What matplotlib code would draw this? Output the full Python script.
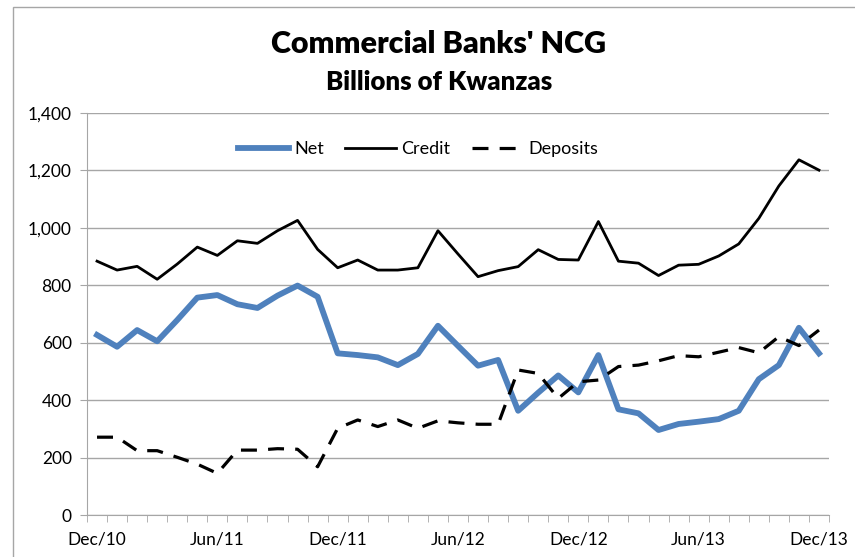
import numpy as np
import matplotlib.pyplot as plt
from matplotlib.patches import Rectangle
from matplotlib.ticker import FuncFormatter, FixedLocator

# monthly, Dec/10 .. Dec/13 (billions of kwanzas)
months = ["Dec/10", "Jan/11", "Feb/11", "Mar/11", "Apr/11", "May/11", "Jun/11",
          "Jul/11", "Aug/11", "Sep/11", "Oct/11", "Nov/11", "Dec/11",
          "Jan/12", "Feb/12", "Mar/12", "Apr/12", "May/12", "Jun/12",
          "Jul/12", "Aug/12", "Sep/12", "Oct/12", "Nov/12", "Dec/12",
          "Jan/13", "Feb/13", "Mar/13", "Apr/13", "May/13", "Jun/13",
          "Jul/13", "Aug/13", "Sep/13", "Oct/13", "Nov/13", "Dec/13"]

net = [627, 586, 644, 605, 679, 757, 766, 734, 721, 764, 799, 760, 563,
       557, 549, 522, 561, 659, 589, 520, 540, 363, 426, 486, 427, 557,
       368, 354, 296, 317, 325, 334, 363, 473, 522, 652, 563]

credit = [884, 853, 866, 821, 874, 933, 904, 955, 946, 990, 1026, 925, 861,
          888, 853, 853, 861, 990, 909, 830, 851, 865, 924, 890, 888, 1022,
          884, 877, 834, 870, 873, 902, 944, 1033, 1146, 1237, 1201]

deposits = [271, 271, 224, 224, 201, 177, 145, 226, 226, 231, 229, 168, 302,
            331, 308, 331, 302, 328, 321, 316, 316, 505, 493, 406, 464, 470,
            517, 522, 537, 555, 551, 567, 583, 565, 621, 590, 644]

W, H = 855, 557
fig = plt.figure(figsize=(W / 100, H / 100), dpi=100)
plt.rcParams['font.family'] = ['Lato', 'DejaVu Sans']

# chart frame
fig.add_artist(Rectangle((13 / W, -0.05), (W - 13 + 20) / W, (H - 7) / H + 0.05,
                         transform=fig.transFigure, fill=False,
                         edgecolor='#a6a6a6', linewidth=1.0))

left, right, top, bottom = 87, 829, 113, 515
ax = fig.add_axes([left / W, 1 - bottom / H, (right - left) / W, (bottom - top) / H])

x = np.arange(len(months))
ax.plot(x, net, color='#4f81bd', linewidth=4.2, label='Net', solid_joinstyle='round')
ax.plot(x, credit, color='black', linewidth=2.0, label='Credit')
ax.plot(x, deposits, color='black', linewidth=2.3, linestyle=(0, (5, 3.5)), label='Deposits')

ax.set_xlim(-0.5, len(months) - 0.5)
ax.set_ylim(0, 1400)
ax.set_yticks(np.arange(0, 1401, 200))
ax.yaxis.set_major_formatter(FuncFormatter(lambda v, p: f"{int(v):,}"))
ax.grid(axis='y', color='#a6a6a6', linewidth=1.0)
ax.set_axisbelow(True)

ax.set_xticks(x[::6])
ax.set_xticklabels(months[::6])
ax.xaxis.set_minor_locator(FixedLocator(np.arange(-0.5, len(months), 1.0)))
ax.tick_params(axis='x', which='major', length=0, pad=12, labelsize=12.5)
ax.tick_params(axis='x', which='minor', length=5, color='#a6a6a6', direction='out')
ax.tick_params(axis='y', length=5, color='#a6a6a6', labelsize=12.5, pad=6)

for s in ['top', 'right']:
    ax.spines[s].set_visible(False)
for s in ['left', 'bottom']:
    ax.spines[s].set_color('#a6a6a6')

leg = ax.legend(loc='center', bbox_to_anchor=(0.446, 0.91), ncol=3, frameon=False,
                fontsize=13, handlelength=2.8, handletextpad=0.3, columnspacing=1.2)

fig.text(439 / W, 1 - 44 / H, "Commercial Banks' NCG", ha='center', va='center',
         fontsize=22, fontweight='heavy')
fig.text(439 / W, 1 - 82 / H, "Billions of Kwanzas", ha='center', va='center',
         fontsize=18.5, fontweight='heavy')

fig.savefig('out.png', dpi=100)
